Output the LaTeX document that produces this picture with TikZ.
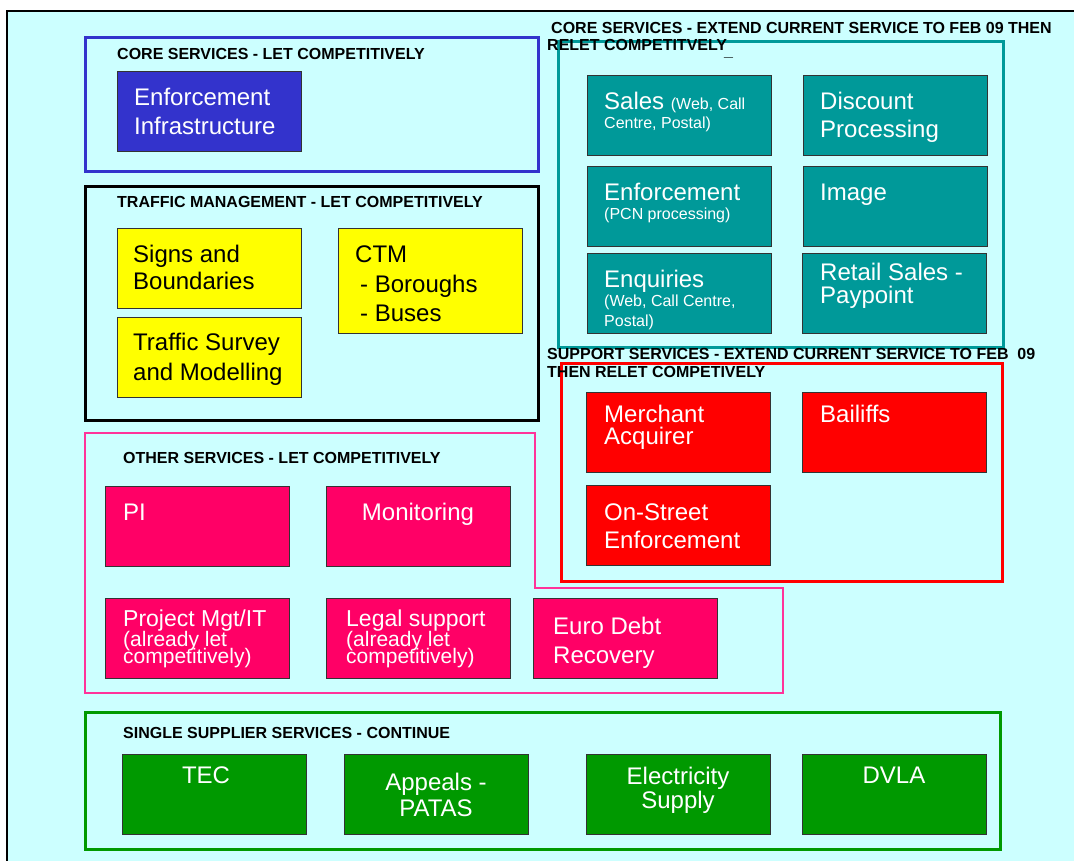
\documentclass[tikz,border=0pt]{standalone}
\usepackage{fontspec}
\setmainfont{Liberation Sans}

\definecolor{panelbg}{HTML}{CCFFFF}
\definecolor{coreblue}{HTML}{3333CC}
\definecolor{coreteal}{HTML}{009999}
\definecolor{supportred}{HTML}{FF0000}
\definecolor{otherpink}{HTML}{FF0066}
\definecolor{otherline}{HTML}{FF3399}
\definecolor{singlegreen}{HTML}{009900}
\definecolor{trafficyellow}{HTML}{FFFF00}

\newcommand{\smalltxt}{\fontsize{16}{18}\selectfont}
\newcommand{\midtxt}{\fontsize{21}{20}\selectfont}

\begin{document}
\begin{tikzpicture}[x=1pt,y=-1pt,
    svc/.style={draw=black!80, line width=0.8pt, anchor=north west, inner sep=0pt,
                minimum width=184pt, minimum height=80pt},
    svctext/.style={anchor=north west, inner sep=0pt, align=left, text=white,
                font=\fontsize{24}{28}\selectfont},
    centred/.style={anchor=north, align=center},
    grouptitle/.style={anchor=base west, inner sep=0pt, align=left,
                font=\bfseries\fontsize{16}{16}\selectfont},
    groupframe/.style={line width=3pt}]

\useasboundingbox (0,0) rectangle (1074,861);

% Background panel (right and bottom edges run off the page)
\draw[fill=panelbg, line width=1.5pt] (7,11) rectangle (1090,880);

% Function to draw one service box
\newcommand{\service}[6]{
    % #1 name, #2 top left corner, #3 box options,
    % #4 first baseline (x,y) from corner, #5 text options, #6 text
    \node[svc, #3] (#1) at (#2) {};
    \node[svctext, #5] (#1-text) at ([shift={#4}, yshift=18pt]#1.north west) {\rule{0pt}{18pt}#6};
}

% Group frames
\draw[groupframe, coreblue] (85,38) rectangle (538,172);
\draw[groupframe, black] (85,187) rectangle (538,420);
\draw[groupframe, coreteal] (558,42) rectangle (1003,347);
\draw[groupframe, supportred] (561,363) rectangle (1002,581);
\draw[line width=2.5pt, otherline] (85,433) -- (535,433) -- (535,588) -- (783,588)
    -- (783,693) -- (85,693) -- cycle;
\draw[groupframe, singlegreen] (85,712) rectangle (1000,849);

% Group titles
\node[grouptitle] (t-core) at (117,59.6) {CORE SERVICES - LET COMPETITIVELY};
\node[grouptitle] (t-traffic) at (117,207.6) {TRAFFIC MANAGEMENT - LET COMPETITIVELY};
\node[grouptitle] (t-extend) at (551,34) {CORE SERVICES - EXTEND CURRENT SERVICE TO FEB 09 THEN};
\node[grouptitle] (t-extend2) at (547,50.5) {RELET COMPETITVELY};
\node[grouptitle] (t-mark) at (724,56.5) {\_};
\node[grouptitle] (t-support) at (547,359.6) {SUPPORT SERVICES - EXTEND CURRENT SERVICE TO FEB\ \ 09};
\node[grouptitle] (t-support2) at (547,377.6) {THEN RELET COMPETIVELY};
\node[grouptitle] (t-other) at (123,463.6) {OTHER SERVICES - LET COMPETITIVELY};
\node[grouptitle] (t-single) at (123,738.6) {SINGLE SUPPLIER SERVICES - CONTINUE};

% Core services - let competitively
\service{infra}{117,71}{fill=coreblue}{(17,34.6)}{font=\fontsize{24}{29}\selectfont}{Enforcement\\Infrastructure}

% Traffic management
\service{signs}{117,228}{fill=trafficyellow}{(16,34.6)}{text=black, font=\fontsize{24}{27}\selectfont}{Signs and\\Boundaries}
\service{survey}{117,317}{fill=trafficyellow}{(16,33.6)}{text=black, font=\fontsize{24}{30}\selectfont}{Traffic Survey\\and Modelling}
\service{ctm}{338,228}{fill=trafficyellow, minimum height=105pt}{(17,34.6)}{text=black, font=\fontsize{24}{29.5}\selectfont}{CTM\\\hspace*{5pt}- Boroughs\\\hspace*{5pt}- Buses}

% Core services - extend current service
\service{sales}{587,75}{fill=coreteal}{(17,34.6)}{font=\fontsize{24}{18.5}\selectfont}{Sales {\smalltxt (Web, Call}\\{\smalltxt Centre, Postal)}}
\service{discount}{803,75}{fill=coreteal}{(17,34.6)}{}{Discount\\Processing}
\service{pcn}{587,166}{fill=coreteal}{(17,34.6)}{font=\fontsize{24}{18.5}\selectfont}{Enforcement\\{\smalltxt (PCN processing)}}
\service{image}{803,166}{fill=coreteal}{(17,34.6)}{}{Image}
\service{enquiries}{587,253}{fill=coreteal}{(17,34)}{font=\fontsize{24}{19.5}\selectfont}{Enquiries\\{\smalltxt (Web, Call Centre,}\\{\smalltxt Postal)}}
\service{retail}{802,253}{fill=coreteal}{(18,27.6)}{font=\fontsize{24}{23}\selectfont}{Retail Sales -\\Paypoint}

% Support services
\service{merchant}{586,392}{fill=supportred}{(18,30.6)}{font=\fontsize{24}{21.5}\selectfont}{Merchant\\Acquirer}
\service{bailiffs}{802,392}{fill=supportred}{(18,30.6)}{}{Bailiffs}
\service{onstreet}{586,485}{fill=supportred}{(18,35.6)}{}{On-Street\\Enforcement}

% Other services
\service{pi}{105,486}{fill=otherpink}{(18,34.6)}{}{PI}
\service{monitoring}{326,486}{fill=otherpink}{(92,34.6)}{centred}{Monitoring}
\service{projectmgt}{105,598}{fill=otherpink}{(18,28)}{font=\fontsize{23}{20}\selectfont}{Project Mgt/IT\\{\midtxt (already let}\\[-3pt]{\midtxt competitively)}}
\service{legal}{326,598}{fill=otherpink}{(20,28)}{font=\fontsize{23}{20}\selectfont}{Legal support\\{\midtxt (already let}\\[-3pt]{\midtxt competitively)}}
\service{eurodebt}{533,598}{fill=otherpink}{(20,36.6)}{font=\fontsize{24}{29}\selectfont}{Euro Debt\\Recovery}

% Single supplier services
\service{tec}{122,754}{fill=singlegreen}{(84,29.6)}{centred}{TEC}
\service{appeals}{344,754}{fill=singlegreen}{(92,36.6)}{centred, font=\fontsize{24}{26}\selectfont}{Appeals -\\PATAS}
\service{electricity}{586,754}{fill=singlegreen}{(92,30.6)}{centred, font=\fontsize{24}{24}\selectfont}{Electricity\\Supply}
\service{dvla}{802,754}{fill=singlegreen}{(92,29.6)}{centred}{DVLA}

\end{tikzpicture}
\end{document}
